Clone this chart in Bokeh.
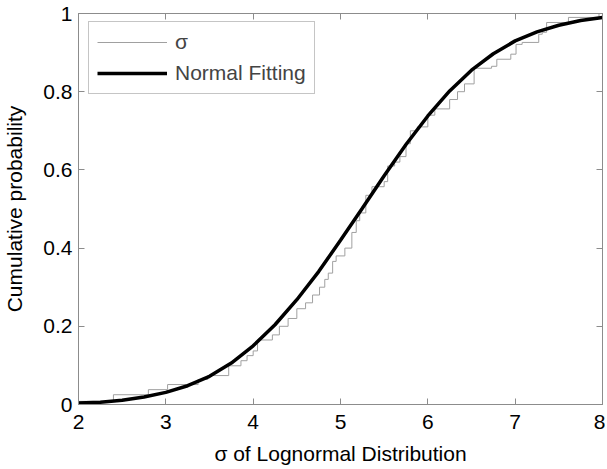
from bokeh.plotting import figure
from bokeh.models import Range1d, FixedTicker, LinearAxis, Legend, LegendItem
from bokeh.embed import file_html
from bokeh.resources import INLINE

# Normal fitting curve
fit_x = [2.0, 2.25, 2.5, 2.75, 3.0, 3.25, 3.5, 3.75, 4.0, 4.25, 4.5, 4.75, 5.0,
         5.25, 5.5, 5.75, 6.0, 6.25, 6.5, 6.75, 7.0, 7.25, 7.5, 7.75, 8.0]
fit_y = [0.004, 0.006, 0.011, 0.019, 0.031, 0.048, 0.072, 0.106, 0.150, 0.204,
         0.268, 0.340, 0.420, 0.502, 0.585, 0.665, 0.738, 0.802, 0.855, 0.897,
         0.930, 0.953, 0.970, 0.982, 0.990]

ecdf_x = [2.00, 2.40, 2.80, 3.02, 3.37, 3.48, 3.72, 3.86, 3.93, 4.00, 4.05, 4.22,
          4.30, 4.40, 4.50, 4.60, 4.68, 4.76, 4.82, 4.86, 4.91, 4.95, 5.05, 5.13,
          5.18, 5.22, 5.29, 5.36, 5.50, 5.54, 5.62, 5.68, 5.75, 5.80, 5.88, 6.00,
          6.08, 6.25, 6.34, 6.42, 6.53, 6.73, 6.79, 6.95, 7.01, 7.08, 7.27, 7.31,
          7.36, 7.61, 7.96, 8.00]
ecdf_y = [0.008, 0.025, 0.038, 0.051, 0.064, 0.074, 0.099, 0.112, 0.125, 0.137,
          0.165, 0.178, 0.200, 0.220, 0.245, 0.260, 0.280, 0.300, 0.320, 0.336,
          0.366, 0.380, 0.400, 0.440, 0.470, 0.490, 0.535, 0.557, 0.570, 0.610,
          0.620, 0.634, 0.667, 0.700, 0.710, 0.740, 0.756, 0.780, 0.800, 0.820,
          0.860, 0.865, 0.883, 0.896, 0.921, 0.926, 0.947, 0.952, 0.977, 0.990,
          1.000, 1.000]

x_ticks = [2, 3, 4, 5, 6, 7, 8]
x_tick_labels = ["2", "3", "4", "5", "6", "7", "8"]
y_ticks = [0, 0.2, 0.4, 0.6, 0.8, 1]
y_tick_labels = ["0", "0.2", "0.4", "0.6", "0.8", "1"]

FONT = "Liberation Sans"
FS = "21px"
AXC = "#8c8c8c"

p = figure(width=605, height=467, x_range=Range1d(2, 8), y_range=Range1d(0, 1),
           output_backend="svg", toolbar_location=None,
           min_border_left=76, min_border_right=3, min_border_top=13,
           min_border_bottom=60, x_axis_label="σ of Lognormal Distribution",
           y_axis_label="Cumulative probability")
p.grid.visible = False
p.background_fill_color = "white"
p.border_fill_color = "white"
p.outline_line_color = AXC

def style(ax, ticks, labels, show):
    ax.ticker = FixedTicker(ticks=ticks)
    ax.major_label_overrides = {t: l for t, l in zip(ticks, labels)}
    ax.axis_line_color = AXC
    ax.major_tick_line_color = AXC
    ax.major_tick_in = 6
    ax.major_tick_out = 0
    ax.minor_tick_line_color = None
    ax.major_label_text_font = FONT
    ax.major_label_text_color = "black"
    ax.axis_label_text_font = FONT
    ax.axis_label_text_font_style = "normal"
    ax.axis_label_text_color = "black"
    ax.axis_label_text_font_size = FS
    if show:
        ax.major_label_text_font_size = FS
    else:
        ax.major_label_text_font_size = "0px"
        ax.major_label_standoff = 0
        ax.axis_label_standoff = 0

style(p.xaxis[0], x_ticks, x_tick_labels, True)
style(p.yaxis[0], y_ticks, y_tick_labels, True)
p.xaxis[0].major_label_standoff = 10
p.xaxis[0].axis_label_standoff = 10
p.yaxis[0].major_label_standoff = 6
p.yaxis[0].axis_label_standoff = 14

top = LinearAxis()
style(top, x_ticks, ["" for _ in x_ticks], False)
p.add_layout(top, "above")
right = LinearAxis()
style(right, y_ticks, ["" for _ in y_ticks], False)
p.add_layout(right, "right")

r_ecdf = p.step(ecdf_x, ecdf_y, mode="after", line_color="#a0a0a0", line_width=1)
r_fit = p.line(fit_x, fit_y, line_color="black", line_width=3.5)

legend = Legend(items=[LegendItem(label="σ", renderers=[r_ecdf]),
                       LegendItem(label="Normal Fitting", renderers=[r_fit])],
                location=(10, 310))
legend.margin = 0
legend.padding = 8
legend.spacing = 7
legend.glyph_width = 70
legend.glyph_height = 24
legend.label_height = 24
legend.label_standoff = 8
legend.label_text_font = FONT
legend.label_text_font_size = FS
legend.border_line_color = AXC
legend.border_line_width = 1
legend.background_fill_alpha = 1
p.add_layout(legend, "center")

open("out.html", "w").write(file_html(p, INLINE))
